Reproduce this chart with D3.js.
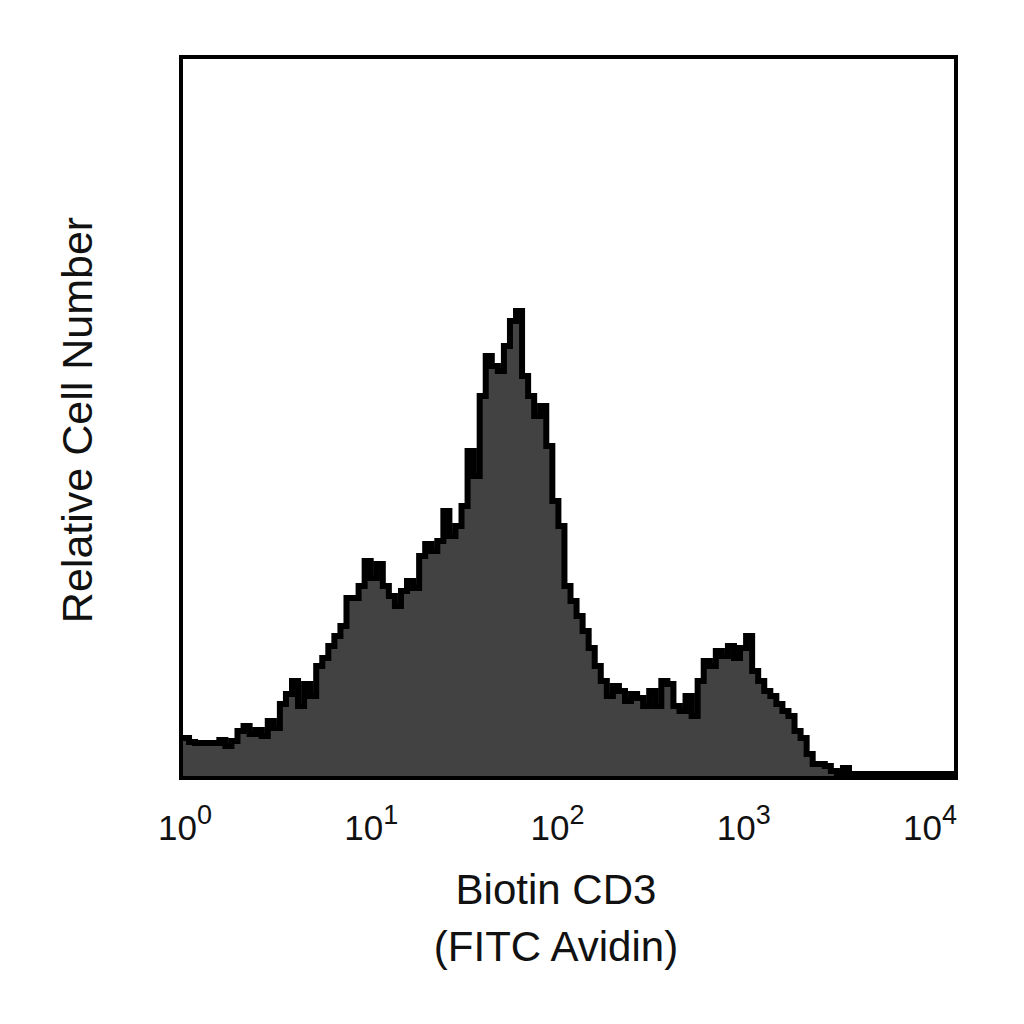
<!DOCTYPE html>
<html>
<head>
<meta charset="utf-8">
<script src="https://cdn.jsdelivr.net/npm/d3@7"></script>
<style>
  body { margin: 0; background: #fff; }
  text { font-family: "Liberation Sans", Arial, sans-serif; fill: #111; }
</style>
</head>
<body>
<svg id="chart" width="1024" height="1024"></svg>
<script>
// histogram counts, 128 log-spaced channels from 10^0 to 10^4
const counts = [
  38, 34, 33, 33, 33, 33, 36, 30, 35, 45, 50, 42, 46, 40, 55, 48,
  72, 82, 95, 70, 92, 80, 110, 118, 130, 140, 150, 178, 178, 190, 215, 198,
  212, 190, 180, 170, 185, 195, 188, 220, 232, 225, 235, 265, 240, 250, 270, 325,
  300, 380, 420, 410, 405, 430, 455, 465, 400, 380, 360, 370, 330, 275, 250, 190,
  175, 160, 145, 128, 110, 95, 80, 90, 85, 75, 82, 78, 70, 85, 70, 95,
  92, 70, 65, 80, 60, 95, 115, 110, 125, 120, 130, 118, 128, 140, 105, 95,
  85, 80, 72, 65, 60, 45, 38, 22, 12, 12, 10, 5, 3, 8, 2, 2,
  2, 2, 2, 2, 2, 2, 2, 2, 2, 2, 2, 2, 2, 2, 2, 2
];
const tickExps = [0, 1, 2, 3, 4];
const xTitle = ["Biotin CD3", "(FITC Avidin)"];
const yTitle = "Relative Cell Number";

const svg = d3.select('#chart');
const m = { left: 181, right: 956, top: 57, bottom: 778 };

const x = d3.scaleLog().domain([1, 1e4]).range([m.left, m.right]);
const y = d3.scaleLinear().domain([0, 721]).range([m.bottom, m.top]);
// labels sit a bit inside the frame ends
const xLab = d3.scaleLinear().domain([0, 4]).range([185, 930]);

const n = counts.length;
const step = 4 / n;
// step outline points
const pts = [];
counts.forEach((c, i) => {
  pts.push([Math.pow(10, i * step), c]);
  pts.push([Math.pow(10, (i + 1) * step), c]);
});

const area = d3.area()
  .x(d => x(d[0]))
  .y0(m.bottom)
  .y1(d => y(d[1]));
const line = d3.line()
  .x(d => x(d[0]))
  .y(d => y(d[1]));

svg.append('path')
  .attr('d', area(pts))
  .attr('fill', '#424242');
svg.append('path')
  .attr('d', line(pts))
  .attr('fill', 'none')
  .attr('stroke', '#000')
  .attr('stroke-width', 6)
  .attr('transform', 'translate(2,-2)');

// frame
svg.append('rect')
  .attr('x', m.left).attr('y', m.top)
  .attr('width', m.right - m.left).attr('height', m.bottom - m.top)
  .attr('fill', 'none')
  .attr('stroke', '#000')
  .attr('stroke-width', 4);

// tick labels 10^n
const tl = svg.selectAll('.tick')
  .data(tickExps)
  .enter().append('text')
  .attr('x', d => xLab(d))
  .attr('y', 840)
  .attr('text-anchor', 'middle')
  .attr('font-size', 35);
tl.append('tspan').text('10');
tl.append('tspan')
  .attr('dy', -16)
  .attr('font-size', 27)
  .text(d => d);

svg.selectAll('.xt')
  .data(xTitle)
  .enter().append('text')
  .attr('x', 556)
  .attr('y', (d, i) => 904 + i * 57)
  .attr('text-anchor', 'middle')
  .attr('font-size', 42)
  .text(d => d);

svg.append('text')
  .attr('transform', 'translate(92,420) rotate(-90)')
  .attr('text-anchor', 'middle')
  .attr('font-size', 43)
  .text(yTitle);
</script>
</body>
</html>
